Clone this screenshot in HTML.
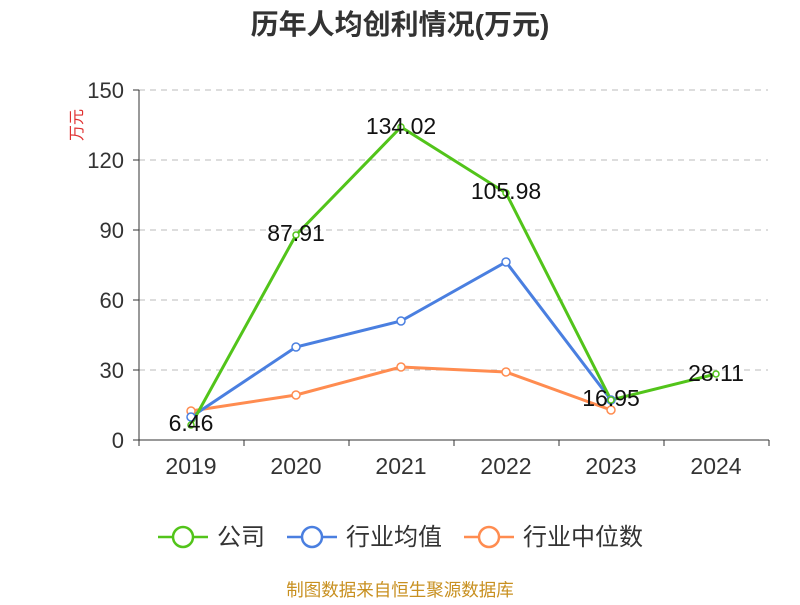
<!DOCTYPE html>
<html><head><meta charset="utf-8"><style>body{margin:0;background:#fff}</style></head><body>
<svg width="800" height="600" xmlns="http://www.w3.org/2000/svg" font-family="Liberation Sans, Noto Sans CJK SC, sans-serif">
<text x="400" y="34" text-anchor="middle" font-size="28" font-weight="bold" fill="#333">历年人均创利情况(万元)</text>
<text x="82" y="125" font-size="16" fill="#e03030" transform="rotate(-90 82 125)" text-anchor="middle">万元</text>
<g stroke="#bbb" stroke-dasharray="6,5">
<line x1="139" y1="90" x2="768" y2="90"/><line x1="139" y1="160" x2="768" y2="160"/><line x1="139" y1="230" x2="768" y2="230"/><line x1="139" y1="300" x2="768" y2="300"/><line x1="139" y1="370" x2="768" y2="370"/>
</g>
<g stroke="#333" stroke-width="1">
<line x1="139" y1="90" x2="139" y2="440"/><line x1="139" y1="440" x2="769" y2="440"/>
<line x1="133" y1="90" x2="139" y2="90"/><line x1="133" y1="160" x2="139" y2="160"/><line x1="133" y1="230" x2="139" y2="230"/><line x1="133" y1="300" x2="139" y2="300"/><line x1="133" y1="370" x2="139" y2="370"/><line x1="133" y1="440" x2="139" y2="440"/>
<line x1="139" y1="440" x2="139" y2="446"/><line x1="244" y1="440" x2="244" y2="446"/><line x1="349" y1="440" x2="349" y2="446"/><line x1="454" y1="440" x2="454" y2="446"/><line x1="559" y1="440" x2="559" y2="446"/><line x1="664" y1="440" x2="664" y2="446"/><line x1="769" y1="440" x2="769" y2="446"/>
</g>
<g font-size="22" fill="#333" text-anchor="end">
<text x="124" y="98">150</text><text x="124" y="168">120</text><text x="124" y="238">90</text><text x="124" y="308">60</text><text x="124" y="378">30</text><text x="124" y="448">0</text>
</g>
<g font-size="23" fill="#333" text-anchor="middle">
<text x="191" y="474">2019</text><text x="296" y="474">2020</text><text x="401" y="474">2021</text><text x="506" y="474">2022</text><text x="611" y="474">2023</text><text x="716" y="474">2024</text>
</g>
<polyline fill="none" stroke="#ff8c50" stroke-width="3" points="191,411 296,395 401,367 506,372 611,410"/>
<polyline fill="none" stroke="#4a7fe0" stroke-width="3" points="191,417 296,347 401,321 506,262 611,400"/>
<polyline fill="none" stroke="#52c41a" stroke-width="3" points="191,425 296,235 401,127 506,193 611,400 716,374"/>
<g fill="#fff" stroke-width="1.5">
<g stroke="#ff8c50"><circle cx="191" cy="411" r="4"/><circle cx="296" cy="395" r="4"/><circle cx="401" cy="367" r="4"/><circle cx="506" cy="372" r="4"/><circle cx="611" cy="410" r="4"/></g>
<g stroke="#4a7fe0"><circle cx="191" cy="417" r="4"/><circle cx="296" cy="347" r="4"/><circle cx="401" cy="321" r="4"/><circle cx="506" cy="262" r="4"/><circle cx="611" cy="400" r="4"/></g>
<g stroke="#52c41a"><circle cx="191" cy="425" r="3"/><circle cx="296" cy="235" r="3"/><circle cx="401" cy="127" r="3"/><circle cx="506" cy="193" r="3"/><circle cx="611" cy="400" r="3"/><circle cx="716" cy="374" r="3"/></g>
</g>
<g font-size="23" fill="#111" text-anchor="middle">
<text x="191" y="431">6.46</text><text x="296" y="241">87.91</text><text x="401" y="134">134.02</text><text x="506" y="199">105.98</text><text x="611" y="406">16.95</text><text x="716" y="381">28.11</text>
</g>
<g stroke-width="2.5" fill="#fff">
<line x1="158" y1="537" x2="208" y2="537" stroke="#52c41a"/><circle cx="183" cy="537" r="10" stroke="#52c41a"/>
<line x1="287" y1="537" x2="337" y2="537" stroke="#4a7fe0"/><circle cx="312" cy="537" r="10" stroke="#4a7fe0"/>
<line x1="464" y1="537" x2="514" y2="537" stroke="#ff8c50"/><circle cx="489" cy="537" r="10" stroke="#ff8c50"/>
</g>
<g font-size="24" fill="#333">
<text x="217" y="545">公司</text><text x="346" y="545">行业均值</text><text x="523" y="545">行业中位数</text>
</g>
<text x="400" y="596" text-anchor="middle" font-size="17.5" fill="#c89020">制图数据来自恒生聚源数据库</text>
</svg>
</body></html>
